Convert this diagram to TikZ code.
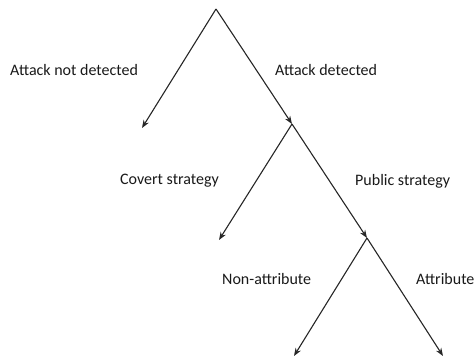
\documentclass[tikz,border=0pt]{standalone}
\usepackage{fontspec}
\setmainfont{Carlito}
\usetikzlibrary{arrows.meta}
\begin{document}
\begin{tikzpicture}[x=1pt,y=-1pt,
  branch/.style={draw=black!85,line width=1.1pt,-{Stealth[length=8pt,width=6pt]}},
  lbl/.style={anchor=west,inner sep=0pt,font=\fontsize{16}{18}\selectfont,text=black!90}]
\useasboundingbox (0,0) rectangle (474,358);
\coordinate (A) at (216,9);
\coordinate (B) at (142,128);
\coordinate (C) at (292,124);
\coordinate (D) at (219,240);
\coordinate (E) at (367,238);
\coordinate (F) at (294,356);
\coordinate (G) at (443,356);
\draw[branch] (A) -- (B);
\draw[branch] (A) -- (C);
\draw[branch] (C) -- (D);
\draw[branch] (C) -- (E);
\draw[branch] (E) -- (F);
\draw[branch] (E) -- (G);
\node[lbl] (t1) at (10,70) {Attack not detected};
\node[lbl] (t2) at (275,70) {Attack detected};
\node[lbl] (t3) at (120,181) {Covert strategy};
\node[lbl] (t4) at (355,181) {Public strategy};
\node[lbl] (t5) at (222,279) {Non-attribute};
\node[lbl] (t6) at (416,279) {Attribute};
\end{tikzpicture}
\end{document}
